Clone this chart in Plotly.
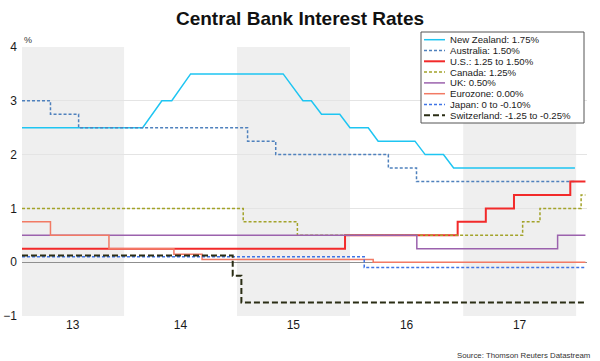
import plotly.graph_objects as go

# ---------------- data ----------------
nz_dates = ["2013-02-05", "2014-03-02", "2014-05-03", "2014-06-04", "2014-08-04",
            "2015-05-30", "2015-08-02", "2015-08-29", "2015-10-01", "2015-11-29",
            "2016-01-01", "2016-02-29", "2016-04-01", "2016-07-29", "2016-08-31",
            "2016-10-29", "2016-12-01", "2017-12-28"]
nz_values = [2.5, 2.5, 3.0, 3.0, 3.5, 3.5, 3.0, 3.0, 2.75, 2.75,
             2.5, 2.5, 2.25, 2.25, 2.0, 2.0, 1.75, 1.75]

au_dates = ["2013-02-05", "2013-05-08", "2013-08-07", "2015-02-04", "2015-05-06",
            "2016-05-04", "2016-08-03", "2017-12-31"]
au_values = [3.0, 2.75, 2.5, 2.25, 2.0, 1.75, 1.5, 1.5]

us_dates = ["2013-02-05", "2015-12-16", "2016-12-14", "2017-03-15", "2017-06-14",
            "2017-12-13", "2018-01-31"]
us_values = [0.25, 0.5, 0.75, 1.0, 1.25, 1.5, 1.5]

ca_dates = ["2013-02-05", "2015-01-21", "2015-07-15", "2017-07-12", "2017-09-06",
            "2018-01-17", "2018-01-31"]
ca_values = [1.0, 0.75, 0.5, 0.75, 1.0, 1.25, 1.25]

uk_dates = ["2013-02-05", "2016-08-04", "2017-11-02", "2018-01-31"]
uk_values = [0.5, 0.25, 0.5, 0.5]

ez_dates = ["2013-02-05", "2013-05-08", "2013-11-13", "2014-06-11", "2014-09-10",
            "2016-03-16", "2018-01-31"]
ez_values = [0.75, 0.5, 0.25, 0.15, 0.05, 0.0, 0.0]

jp_dates = ["2013-02-05", "2016-02-16", "2018-01-31"]
jp_values = [0.1, -0.1, -0.1]

ch_dates = ["2013-02-05", "2014-12-18", "2015-01-15", "2018-01-31"]
ch_values = [0.125, -0.25, -0.75, -0.75]

legend_labels = ["New Zealand: 1.75%", "Australia: 1.50%", "U.S.: 1.25 to 1.50%",
                 "Canada: 1.25%", "UK: 0.50%", "Eurozone: 0.00%",
                 "Japan: 0 to -0.10%", "Switzerland: -1.25 to -0.25%"]

x_tick_vals = ["2013-07-19", "2014-07-02", "2015-07-02", "2016-07-02", "2017-07-02"]
x_tick_text = ["13", "14", "15", "16", "17"]
y_tick_vals = [-1, 0, 1, 2, 3, 4]

shade_years = [("2013-02-05", "2014-01-01"), ("2015-01-01", "2016-01-01"),
               ("2017-01-01", "2018-01-01")]

x_range = ["2013-02-05", "2018-02-05"]

# ---------------- styles ----------------
series = [
    (nz_dates, nz_values, "#1ec5f2", 1.5, "solid", "linear"),
    (au_dates, au_values, "#4f81bd", 1.5, "3px,2px", "hv"),
    (us_dates, us_values, "#f22a2a", 2.0, "solid", "hv"),
    (ca_dates, ca_values, "#a3a32a", 1.5, "3px,2px", "hv"),
    (uk_dates, uk_values, "#9b62ad", 1.5, "solid", "hv"),
    (ez_dates, ez_values, "#f27a64", 1.5, "solid", "hv"),
    (jp_dates, jp_values, "#3f74e6", 1.5, "3px,2px", "hv"),
    (ch_dates, ch_values, "#2a2d14", 2.0, "6px,3px", "hv"),
]

FONT = "Liberation Sans, Arial, sans-serif"
W, H = 600, 361
ML, MR, MT, MB = 22, 13, 47, 45
PW, PH = W - ML - MR, H - MT - MB


def px_x(p):
    return (p - ML) / PW


def px_y(p):
    return (H - MB - p) / PH


fig = go.Figure()
for (xs, ys, col, wd, dash, shape), name in zip(series, legend_labels):
    fig.add_trace(go.Scatter(x=xs, y=ys, mode="lines", name=name,
                             line=dict(color=col, width=wd, dash=dash, shape=shape),
                             showlegend=False, hoverinfo="skip"))

shapes = []
for a, b in shade_years:
    shapes.append(dict(type="rect", xref="x", yref="paper", x0=a, x1=b, y0=0, y1=1,
                       fillcolor="#efefef", line=dict(width=0), layer="below"))

# manual compact legend
shapes.append(dict(type="rect", xref="paper", yref="paper",
                   x0=px_x(421), x1=px_x(584), y0=px_y(123), y1=px_y(32),
                   fillcolor="white", line=dict(color="#555555", width=1), layer="above"))
annotations = []
for i, ((xs, ys, col, wd, dash, shape), name) in enumerate(zip(series, legend_labels)):
    yc = 39.7 + 10.8 * i
    shapes.append(dict(type="line", xref="paper", yref="paper",
                       x0=px_x(424), x1=px_x(445), y0=px_y(yc), y1=px_y(yc),
                       line=dict(color=col, width=wd, dash=dash), layer="above"))
    annotations.append(dict(xref="paper", yref="paper", x=px_x(448), y=px_y(yc),
                            text=name, showarrow=False, xanchor="left", yanchor="middle",
                            font=dict(family=FONT, size=9.6, color="#1a1a1a")))

annotations.append(dict(xref="paper", yref="paper", x=px_x(22), y=px_y(40), text="%",
                        showarrow=False, xanchor="left", yanchor="middle",
                        font=dict(family=FONT, size=9, color="#333333")))
annotations.append(dict(xref="paper", yref="paper", x=px_x(592), y=px_y(355),
                        text="Source: Thomson Reuters Datastream", showarrow=False,
                        xanchor="right", yanchor="middle",
                        font=dict(family=FONT, size=7.8, color="#333333")))

fig.update_layout(
    width=W, height=H,
    margin=dict(l=ML, r=MR, t=MT, b=MB, autoexpand=False),
    paper_bgcolor="white", plot_bgcolor="white",
    title=dict(text="<b>Central Bank Interest Rates</b>", x=0.5, xanchor="center",
               y=1 - 18 / H, yanchor="middle",
               font=dict(family=FONT, size=19, color="#111111")),
    shapes=shapes, annotations=annotations,
    showlegend=False,
    xaxis=dict(type="date", range=x_range, tickvals=x_tick_vals, ticktext=x_tick_text,
               showgrid=False, zeroline=False, showline=False, ticks="",
               automargin=False,
               tickfont=dict(family=FONT, size=12, color="#1a1a1a")),
    yaxis=dict(range=[-1, 4], tickvals=y_tick_vals, showgrid=True, gridcolor="#e4e4e4",
               gridwidth=1, zeroline=True, zerolinecolor="#8f8f8f", zerolinewidth=1,
               showline=False, ticks="", ticklabelstandoff=4, automargin=False,
               tickfont=dict(family=FONT, size=12, color="#1a1a1a")),
)

fig.write_html("out.html", config={"displayModeBar": False},
               post_script="document.body.style.margin='0';document.body.style.overflow='hidden';")
